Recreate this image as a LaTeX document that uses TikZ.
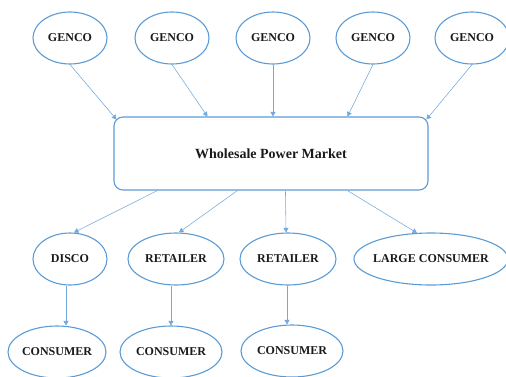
\documentclass[tikz,border=0pt]{standalone}
\usepackage{fontspec}
\setmainfont{Liberation Serif}
\usetikzlibrary{shapes.geometric,arrows.meta,calc}
\definecolor{lineblue}{HTML}{5B9BD5}
\definecolor{txt}{HTML}{1A1A1A}
\tikzset{
  ent/.style={ellipse,draw=lineblue,line width=1.1pt,inner sep=0pt,minimum height=52pt,text=txt,font=\fontsize{12}{14}\selectfont\bfseries},
  mkt/.style={rectangle,rounded corners=9pt,draw=lineblue,line width=1.1pt,minimum width=314pt,minimum height=73pt,inner sep=0pt,text=txt,font=\fontsize{14}{16}\selectfont\bfseries},
  arr/.style={draw=lineblue!85,line width=0.55pt,-{Triangle[length=4.5pt,width=5pt]}}
}
\begin{document}
\begin{tikzpicture}[x=1pt,y=-1pt]
\useasboundingbox (0,0) rectangle (506,376);
% GENCO row
\node[ent,minimum width=74pt] (g1) at (70,38) {GENCO};
\node[ent,minimum width=74pt] (g2) at (172,38) {GENCO};
\node[ent,minimum width=74pt] (g3) at (273,38) {GENCO};
\node[ent,minimum width=74pt] (g4) at (373,38) {GENCO};
\node[ent,minimum width=74pt] (g5) at (472,38) {GENCO};
% market
\node[mkt] (m) at (271,153.5) {Wholesale Power Market};
% middle row
\node[ent,minimum width=74pt] (d) at (70,259) {DISCO};
\node[ent,minimum width=96pt] (r1) at (176,259) {RETAILER};
\node[ent,minimum width=96pt] (r2) at (288,259) {RETAILER};
\node[ent,minimum width=154pt] (lc) at (431,259) {\makebox[0pt]{LARGE CONSUMER}};
% bottom row
\node[ent,minimum width=98pt] (c1) at (57,352) {\makebox[0pt]{CONSUMER}};
\node[ent,minimum width=102pt] (c2) at (171,352) {\makebox[0pt]{CONSUMER}};
\node[ent,minimum width=102pt] (c3) at (292,351) {\makebox[0pt]{CONSUMER}};
% arrows top
\draw[arr] (g1.south) -- ($(m.north west)+(3,3)$);
\draw[arr] (g2.south) -- ($(m.north west)+(94,0)$);
\draw[arr] (g3.south) -- (g3.south |- m.north);
\draw[arr] (g4.south) -- ($(m.north west)+(234,0)$);
\draw[arr] (g5.south) -- ($(m.north west)+(313,3)$);
% arrows middle
\draw[arr] ($(m.south west)+(44,0)$) -- ([xshift=4pt]d.north);
\draw[arr] ($(m.south west)+(124,0)$) -- ([xshift=3pt]r1.north);
\draw[arr] ($(m.south west)+(172,0)$) -- ([xshift=-2pt]r2.north);
\draw[arr] ($(m.south west)+(234,0)$) -- ([xshift=-14pt,yshift=-0.5pt]lc.north);
% arrows bottom
\draw[arr] ([xshift=-4pt]d.south) -- ([xshift=-4pt]d.south |- c1.north);
\draw[arr] ([xshift=-5pt]r1.south) -- ([xshift=-5pt]r1.south |- c2.north);
\draw[arr] ([xshift=-1pt]r2.south) -- ([xshift=-1pt]r2.south |- c3.north);
\end{tikzpicture}
\end{document}
